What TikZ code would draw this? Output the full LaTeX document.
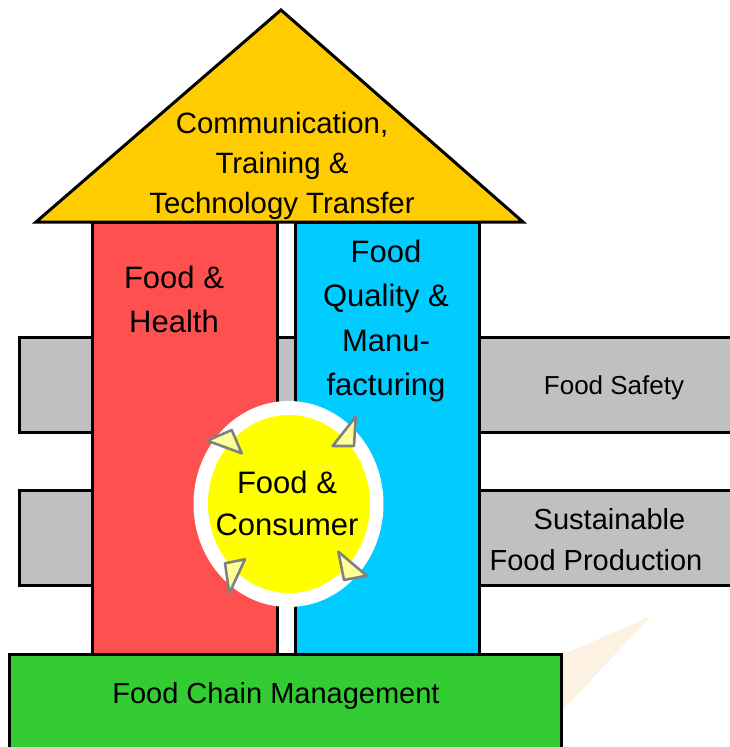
\documentclass[tikz,border=0pt]{standalone}
\usepackage{fontspec}
\setmainfont{Liberation Sans}
\definecolor{roofc}{HTML}{FFCC00}
\definecolor{redp}{HTML}{FF5050}
\definecolor{bluep}{HTML}{00CCFF}
\definecolor{grayb}{HTML}{C0C0C0}
\definecolor{greenb}{HTML}{33CC33}
\definecolor{coreyel}{HTML}{FFFF00}
\definecolor{tipfill}{HTML}{FFFF99}
\definecolor{tipline}{HTML}{808080}
\definecolor{wmark}{HTML}{FDF2E2}
\tikzset{
  block/.style={draw=black, line width=3pt, line join=miter},
  tipshape/.style={draw=tipline, fill=tipfill, line width=2.6pt, line join=round},
  lbl/.style={inner sep=0pt, align=center, text=black},
}
\begin{document}
\begin{tikzpicture}[x=1pt, y=-1pt]
\useasboundingbox (0,0) rectangle (730,747);
% watermark
\fill[wmark] (651,616) -- (560,656) -- (560,713) -- cycle;
% gray bars
\draw[block, fill=grayb] (19,337) rectangle (736,432);
\draw[block, fill=grayb] (19,490) rectangle (736,585);
% pillars
\draw[block, fill=redp] (92,222) rectangle (277,655);
\draw[block, fill=bluep] (295,222) rectangle (479,655);
% roof
\coordinate (apex) at (281,10);
\coordinate (rl) at (36,222);
\coordinate (rr) at (523,222);
\draw[block, fill=roofc] (rl) -- (apex) -- (rr) -- cycle;
% base
\draw[block, fill=greenb] (9,654) rectangle (561,752);
% core
\fill[white] (288.5,504) ellipse [x radius=95, y radius=103];
\fill[coreyel] (289,504) ellipse [x radius=81, y radius=89];
% tips
\draw[tipshape] (207.3,440.7) -- (231.7,430) -- (241.7,453.3) -- cycle;
\draw[tipshape] (332.7,446) -- (355.7,416.7) -- (354,446) -- cycle;
\draw[tipshape] (338.3,551.7) -- (366.7,575.7) -- (344,580) -- cycle;
\draw[tipshape] (225,563.3) -- (245,559.3) -- (229.3,593.3) -- cycle;
% texts
\node[lbl, font=\fontsize{29.4}{40}\selectfont] (roof) at (282,166) {Communication,\\Training \&\\Technology Transfer};
\node[lbl, font=\fontsize{31}{44}\selectfont] (health) at (174,299) {Food \&\\Health};
\node[lbl, font=\fontsize{31}{44.5}\selectfont] (quality) at (386,321) {Food\\Quality \&\\Manu-\\facturing};
\node[lbl, font=\fontsize{31}{42}\selectfont] (consumer) at (287,503) {Food \&\\Consumer};
\node[lbl, font=\fontsize{26}{30}\selectfont] (safety) at (614,388) {Food Safety};
\node[lbl, font=\fontsize{29}{41}\selectfont] (sustain) at (596,540) {\hspace*{27pt}Sustainable\\Food Production};
\node[lbl, font=\fontsize{29}{35}\selectfont] (chain) at (276,696) {Food Chain Management};
\end{tikzpicture}
\end{document}
